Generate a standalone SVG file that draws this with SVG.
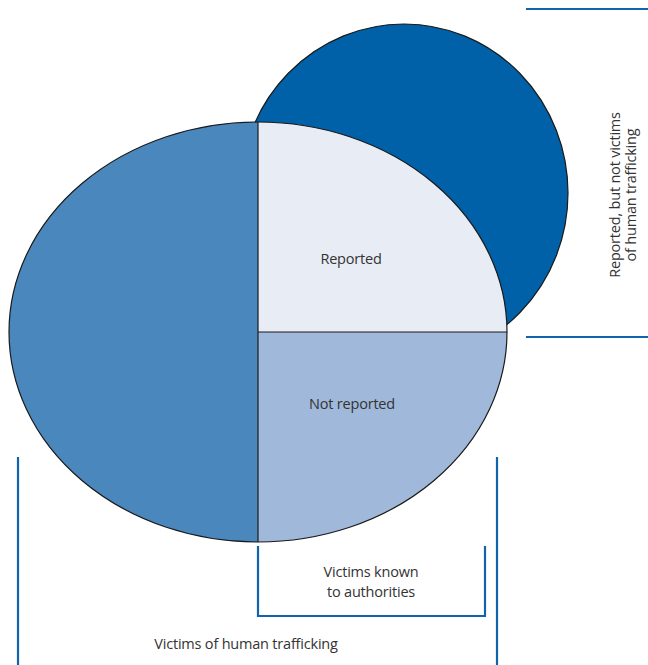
<svg xmlns="http://www.w3.org/2000/svg" width="648" height="665" viewBox="0 0 648 665">
<style>
.lbl{font-family:"Open Sans","Liberation Sans",sans-serif;font-size:14.5px;letter-spacing:-0.2px;fill:#333;text-anchor:middle}
.shape{stroke:#1a1a1a;stroke-width:1.2}
.br{fill:none;stroke:#0f64ad;stroke-width:2.2}
</style>
<rect width="648" height="665" fill="#fff"/>
<g id="reported-not-victims">
<ellipse class="shape" cx="404" cy="193" rx="164" ry="169" fill="#0060a8"/>
</g>
<g id="victims">
<path d="M258,122 A249,210 0 0 0 258,542 Z" fill="#4a87bd"/>
<path d="M258,332 L258,122 A249,210 0 0 1 507,332 Z" fill="#e8ecf5"/>
<path d="M258,332 L507,332 A249,210 0 0 1 258,542 Z" fill="#a0b8da"/>
<ellipse class="shape" cx="258" cy="332" rx="249" ry="210" fill="none"/>
<line class="shape" x1="258" y1="122" x2="258" y2="542"/>
<line class="shape" x1="258" y1="332" x2="507" y2="332"/>
<text class="lbl" x="351" y="264">Reported</text>
<text class="lbl" x="352" y="409">Not reported</text>
</g>
<g id="connectors">
<path class="br" d="M526,9 H648"/>
<path class="br" d="M526,337 H648"/>
<path class="br" d="M18,457 V665"/>
<path class="br" d="M497,457 V665"/>
<path class="br" d="M258,546 V616 H485 V546"/>
</g>
<g id="labels">
<text class="lbl" x="371" y="577">Victims known</text>
<text class="lbl" x="371" y="597">to authorities</text>
<text class="lbl" x="246" y="649">Victims of human trafficking</text>
<text class="lbl" transform="translate(620,195) rotate(-90)">Reported, but not victims</text>
<text class="lbl" transform="translate(636,195) rotate(-90)">of human trafficking</text>
</g>
</svg>
